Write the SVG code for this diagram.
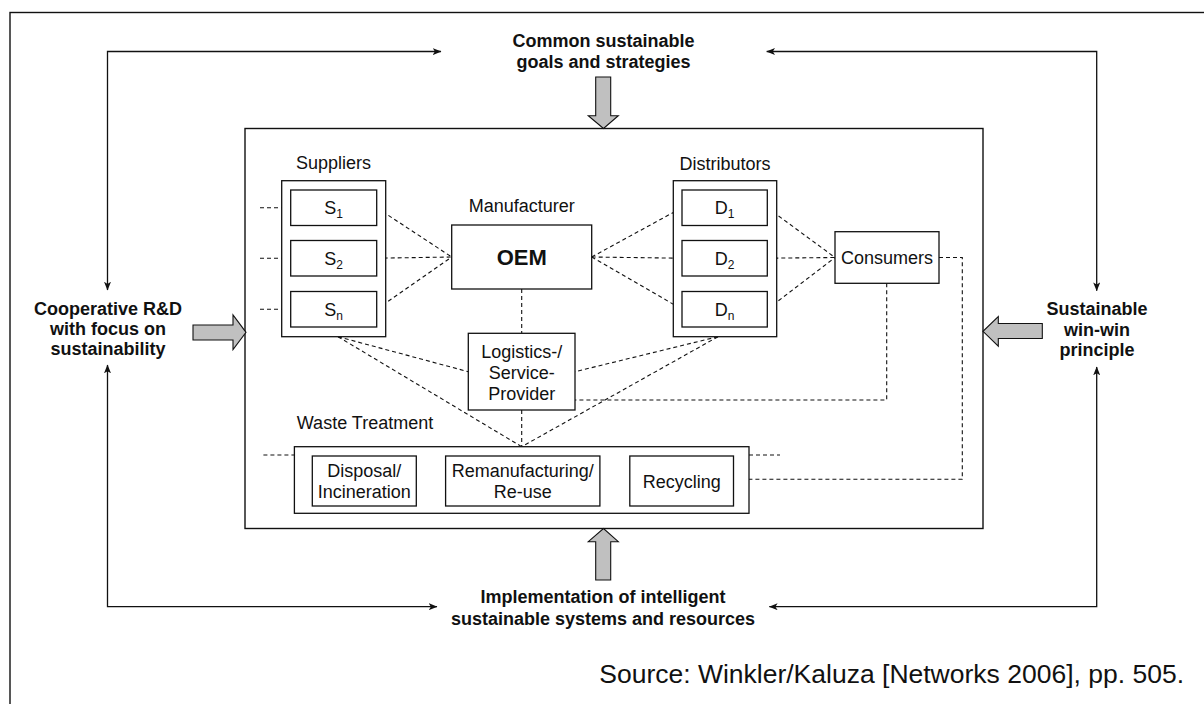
<svg xmlns="http://www.w3.org/2000/svg" width="1204" height="704" viewBox="0 0 1204 704">
  <defs>
    <marker id="tip" viewBox="0 0 10 8" refX="9.5" refY="4" markerWidth="9" markerHeight="7" markerUnits="userSpaceOnUse" orient="auto-start-reverse">
      <path d="M0,0 L10,4 L0,8 L2.5,4 z" fill="#111"/>
    </marker>
    <style>
      text { font-family: "Liberation Sans", Arial, sans-serif; fill: #111; }
      .reg { font-size: 18px; text-anchor: middle; }
      .bold { font-size: 18px; font-weight: bold; text-anchor: middle; }
      .sub { font-size: 12px; }
      .box { fill: #fff; stroke: #111; stroke-width: 1.3; }
      .frame { fill: none; stroke: #111; stroke-width: 1.4; }
      .dash { fill: none; stroke: #111; stroke-width: 1.1; stroke-dasharray: 4 3; }
      .link { fill: none; stroke: #111; stroke-width: 1.3; marker-start: url(#tip); marker-end: url(#tip); }
      .big { fill: #c0c0c0; stroke: #111; stroke-width: 1.1; stroke-linejoin: miter; }
    </style>
  </defs>

  <rect width="1204" height="704" fill="#fff"/>

  <!-- outer frame (runs past the right and bottom edges) -->
  <rect class="frame" x="10" y="12.5" width="1300" height="800"/>

  <!-- supply chain network box -->
  <rect id="network" class="frame" x="245" y="128.5" width="738" height="400"/>

  <!-- dashed relations inside the network -->
  <g id="connectors">
    <!-- upstream feeders into the supplier tier -->
    <line class="dash" x1="260" y1="207.7" x2="290.7" y2="207.7"/>
    <line class="dash" x1="260" y1="258.2" x2="290.7" y2="258.2"/>
    <line class="dash" x1="260" y1="309.3" x2="290.7" y2="309.3"/>
    <!-- suppliers to OEM -->
    <line class="dash" x1="376.7" y1="207.7" x2="451.7" y2="257"/>
    <line class="dash" x1="376.7" y1="258.2" x2="451.7" y2="257"/>
    <line class="dash" x1="376.7" y1="309.3" x2="451.7" y2="257"/>
    <!-- OEM to distributors -->
    <line class="dash" x1="591.7" y1="257" x2="682" y2="207.7"/>
    <line class="dash" x1="591.7" y1="257" x2="682" y2="258.2"/>
    <line class="dash" x1="591.7" y1="257" x2="682" y2="309.3"/>
    <!-- distributors to consumers -->
    <line class="dash" x1="767.3" y1="207.7" x2="835" y2="257.5"/>
    <line class="dash" x1="767.3" y1="258.2" x2="835" y2="257.5"/>
    <line class="dash" x1="767.3" y1="309.3" x2="835" y2="257.5"/>
    <!-- consumers back to waste treatment and logistics -->
    <polyline class="dash" points="939,257.5 962.3,257.5 962.3,479.3 749,479.3"/>
    <polyline class="dash" points="886.7,283.3 886.7,400 575,400"/>
    <!-- OEM / logistics / waste treatment spine -->
    <line class="dash" x1="521.7" y1="289" x2="521.7" y2="333.3"/>
    <line class="dash" x1="521.7" y1="410" x2="521.7" y2="446.7"/>
    <!-- supplier and distributor tiers to logistics and waste treatment -->
    <line class="dash" x1="338" y1="336.7" x2="468.3" y2="371.7"/>
    <line class="dash" x1="338" y1="336.7" x2="521.7" y2="446.7"/>
    <line class="dash" x1="718" y1="336.7" x2="575" y2="371.7"/>
    <line class="dash" x1="718" y1="336.7" x2="521.7" y2="446.7"/>
    <!-- waste treatment open ends and internal links -->
    <line class="dash" x1="263.4" y1="455" x2="294.4" y2="455"/>
    <line class="dash" x1="749" y1="455" x2="780" y2="455"/>
    <line class="dash" x1="416.3" y1="481.7" x2="445.6" y2="481.7"/>
    <line class="dash" x1="599.9" y1="481.7" x2="629.8" y2="481.7"/>

    <!-- outer feedback loop between the four principles -->
    <polyline class="link" points="107.5,290 107.5,51.5 441,51.5"/>
    <polyline class="link" points="766.7,51.5 1096.7,51.5 1096.7,290.7"/>
    <polyline class="link" points="107.5,365 107.5,606.7 437,606.7"/>
    <polyline class="link" points="769.3,606.7 1096.7,606.7 1096.7,367"/>

    <!-- block arrows pointing into the network -->
    <polygon class="big" points="595.7,77 610.7,77 610.7,115.7 618.3,115.7 603.5,128.5 588.3,115.7 595.7,115.7"/>
    <polygon class="big" points="595.7,580 610.7,580 610.7,541.7 618.3,541.7 603.5,528.5 588.3,541.7 595.7,541.7"/>
    <polygon class="big" points="193,325 233,325 233,315 246,332.3 233,349.6 233,340 193,340"/>
    <polygon class="big" points="1042.3,323.5 998.3,323.5 998.3,316.5 983,331.3 998.3,346.1 998.3,338.5 1042.3,338.5"/>
  </g>

  <!-- principles -->
  <g id="goals">
    <text class="bold" x="603.5" y="47">Common sustainable</text>
    <text class="bold" x="603.5" y="68">goals and strategies</text>
  </g>
  <g id="rnd">
    <text class="bold" x="108" y="315">Cooperative R&amp;D</text>
    <text class="bold" x="108" y="335">with focus on</text>
    <text class="bold" x="108" y="355">sustainability</text>
  </g>
  <g id="winwin">
    <text class="bold" x="1097" y="315">Sustainable</text>
    <text class="bold" x="1097" y="335.5">win-win</text>
    <text class="bold" x="1097" y="356">principle</text>
  </g>
  <g id="implementation">
    <text class="bold" x="603" y="603">Implementation of intelligent</text>
    <text class="bold" x="603" y="624.5">sustainable systems and resources</text>
  </g>

  <!-- supplier tier -->
  <g id="suppliers">
    <text class="reg" x="333.5" y="169">Suppliers</text>
    <rect class="box" x="281.7" y="180.7" width="104" height="156"/>
  </g>
  <g id="s1">
    <rect class="box" x="290.7" y="190" width="86" height="35.5"/>
    <text class="reg" x="333.7" y="214">S<tspan class="sub" dy="4">1</tspan></text>
  </g>
  <g id="s2">
    <rect class="box" x="290.7" y="240.5" width="86" height="35.5"/>
    <text class="reg" x="333.7" y="264.5">S<tspan class="sub" dy="4">2</tspan></text>
  </g>
  <g id="sn">
    <rect class="box" x="290.7" y="291.5" width="86" height="35.5"/>
    <text class="reg" x="333.7" y="315.5">S<tspan class="sub" dy="4">n</tspan></text>
  </g>

  <!-- manufacturer -->
  <g id="oem">
    <text class="reg" x="521.7" y="212">Manufacturer</text>
    <rect class="box" x="451.7" y="225" width="140" height="64"/>
    <text class="bold" x="521.7" y="265" style="font-size:22px">OEM</text>
  </g>

  <!-- distributor tier -->
  <g id="distributors">
    <text class="reg" x="725" y="169.5">Distributors</text>
    <rect class="box" x="673.3" y="180.7" width="103.4" height="156"/>
  </g>
  <g id="d1">
    <rect class="box" x="682" y="190" width="85.3" height="35.5"/>
    <text class="reg" x="724.7" y="214">D<tspan class="sub" dy="4">1</tspan></text>
  </g>
  <g id="d2">
    <rect class="box" x="682" y="240.5" width="85.3" height="35.5"/>
    <text class="reg" x="724.7" y="264.5">D<tspan class="sub" dy="4">2</tspan></text>
  </g>
  <g id="dn">
    <rect class="box" x="682" y="291.5" width="85.3" height="35.5"/>
    <text class="reg" x="724.7" y="315.5">D<tspan class="sub" dy="4">n</tspan></text>
  </g>

  <!-- consumers -->
  <g id="consumers">
    <rect class="box" x="835" y="231.7" width="104" height="51.6"/>
    <text class="reg" x="887" y="264">Consumers</text>
  </g>

  <!-- logistics / service provider -->
  <g id="logistics">
    <rect class="box" x="468.3" y="333.3" width="106.7" height="76.7"/>
    <text class="reg" x="521.7" y="357.5">Logistics-/</text>
    <text class="reg" x="521.7" y="378.5">Service-</text>
    <text class="reg" x="521.7" y="399.5">Provider</text>
  </g>

  <!-- waste treatment -->
  <g id="waste">
    <text x="296.8" y="429" style="font-size:18px">Waste Treatment</text>
    <rect class="box" x="294.4" y="446.7" width="454.6" height="66.6"/>
  </g>
  <g id="disposal">
    <rect class="box" x="312.3" y="456" width="104" height="50"/>
    <text class="reg" x="364.3" y="477">Disposal/</text>
    <text class="reg" x="364.3" y="498">Incineration</text>
  </g>
  <g id="remanufacturing">
    <rect class="box" x="445.6" y="456" width="154.3" height="50"/>
    <text class="reg" x="522.7" y="477">Remanufacturing/</text>
    <text class="reg" x="522.7" y="498">Re-use</text>
  </g>
  <g id="recycling">
    <rect class="box" x="629.8" y="456" width="103.7" height="50"/>
    <text class="reg" x="681.7" y="487.5">Recycling</text>
  </g>

  <!-- citation -->
  <text x="1184" y="683" style="font-size:26.5px; text-anchor:end">Source: Winkler/Kaluza [Networks 2006], pp. 505.</text>
</svg>
